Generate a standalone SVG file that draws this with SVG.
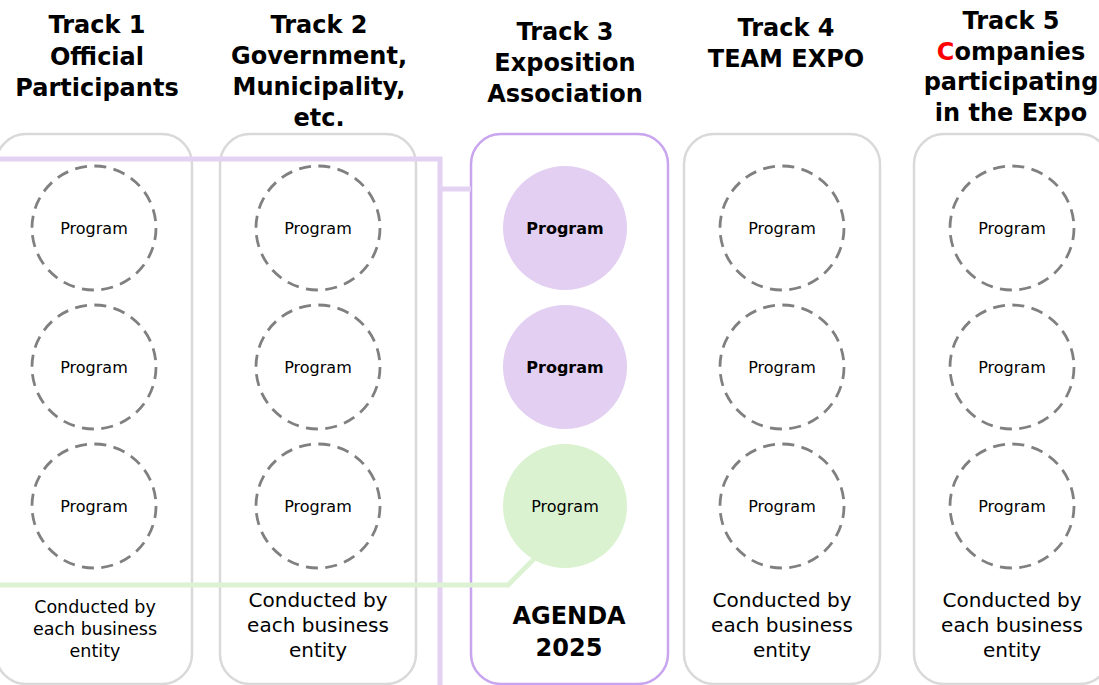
<svg xmlns="http://www.w3.org/2000/svg" width="1099" height="685" viewBox="0 0 1099 685">
<style>
.box{fill:#fff;stroke:#D9D9D9;stroke-width:2.5}
.box3{fill:#fff;stroke:#C8A5EE;stroke-width:2.5}
.dash{fill:#fff;stroke:#808080;stroke-width:2.8;stroke-dasharray:12 7.47}
.h{font-family:"DejaVu Sans",Verdana,sans-serif;font-weight:bold;font-size:24px;fill:#000;text-anchor:middle}
.p{font-family:"DejaVu Sans",Verdana,sans-serif;font-size:16px;fill:#000;text-anchor:middle}
.pb{font-family:"DejaVu Sans",Verdana,sans-serif;font-size:16px;font-weight:bold;fill:#000;text-anchor:middle}
.f{font-family:"DejaVu Sans",Verdana,sans-serif;font-size:20px;fill:#000;text-anchor:middle}
.fs{font-family:"DejaVu Sans",Verdana,sans-serif;font-size:17.5px;fill:#000;text-anchor:middle}
.lp{fill:none;stroke:#E4D2F3;stroke-width:5}
.lg{fill:none;stroke:#DCF2D3;stroke-width:5}
</style>
<rect width="1099" height="685" fill="#fff"/>
<g id="track1">
<text class="h" x="97" y="33">Track 1</text>
<text class="h" x="97" y="65">Official</text>
<text class="h" x="97" y="96">Participants</text>
<rect class="box" x="-4" y="134" width="196" height="550" rx="30"/>
</g>
<g id="track2">
<text class="h" x="319" y="33">Track 2</text>
<text class="h" x="319" y="64">Government,</text>
<text class="h" x="319" y="95">Municipality,</text>
<text class="h" x="319" y="126">etc.</text>
<rect class="box" x="220" y="134" width="196" height="550" rx="30"/>
</g>
<g id="track3">
<text class="h" x="565" y="40">Track 3</text>
<text class="h" x="565" y="71">Exposition</text>
<text class="h" x="565" y="102">Association</text>
<rect class="box3" x="471" y="134" width="197" height="550" rx="30"/>
</g>
<g id="track4">
<text class="h" x="786" y="36">Track 4</text>
<text class="h" x="786" y="67">TEAM EXPO</text>
<rect class="box" x="684" y="134" width="196" height="550" rx="30"/>
</g>
<g id="track5">
<text class="h" x="1011" y="29">Track 5</text>
<text class="h" x="1011" y="60"><tspan fill="#FF0000">C</tspan>ompanies</text>
<text class="h" x="1011" y="90">participating</text>
<text class="h" x="1011" y="121">in the Expo</text>
<rect class="box" x="914" y="134" width="196" height="550" rx="30"/>
</g>
<g id="connectors">
<polyline class="lp" points="0,159 440,159 440,690"/>
<line class="lp" x1="440" y1="189" x2="471" y2="189"/>
<polyline class="lg" points="0,585 508,585 534,559"/>
</g>
<g id="t1-programs">
<circle class="dash" cx="94" cy="228" r="62"/><text class="p" x="94" y="234">Program</text>
<circle class="dash" cx="94" cy="367" r="62"/><text class="p" x="94" y="373">Program</text>
<circle class="dash" cx="94" cy="506" r="62"/><text class="p" x="94" y="512">Program</text>
</g>
<g id="t2-programs">
<circle class="dash" cx="318" cy="228" r="62"/><text class="p" x="318" y="234">Program</text>
<circle class="dash" cx="318" cy="367" r="62"/><text class="p" x="318" y="373">Program</text>
<circle class="dash" cx="318" cy="506" r="62"/><text class="p" x="318" y="512">Program</text>
</g>
<g id="t3-programs">
<circle cx="565" cy="228" r="62" fill="#E3CFF1"/><text class="pb" x="565" y="234">Program</text>
<circle cx="565" cy="367" r="62" fill="#E3CFF1"/><text class="pb" x="565" y="373">Program</text>
<circle cx="565" cy="506" r="62" fill="#DAF2D0"/><text class="p" x="565" y="512">Program</text>
</g>
<g id="t4-programs">
<circle class="dash" cx="782" cy="228" r="62"/><text class="p" x="782" y="234">Program</text>
<circle class="dash" cx="782" cy="367" r="62"/><text class="p" x="782" y="373">Program</text>
<circle class="dash" cx="782" cy="506" r="62"/><text class="p" x="782" y="512">Program</text>
</g>
<g id="t5-programs">
<circle class="dash" cx="1012" cy="228" r="62"/><text class="p" x="1012" y="234">Program</text>
<circle class="dash" cx="1012" cy="367" r="62"/><text class="p" x="1012" y="373">Program</text>
<circle class="dash" cx="1012" cy="506" r="62"/><text class="p" x="1012" y="512">Program</text>
</g>
<g id="footers">
<text class="fs" x="95" y="613">Conducted by</text>
<text class="fs" x="95" y="635">each business</text>
<text class="fs" x="95" y="657">entity</text>
<text class="f" x="318" y="607">Conducted by</text>
<text class="f" x="318" y="632">each business</text>
<text class="f" x="318" y="657">entity</text>
<text class="h" x="569" y="624">AGENDA</text>
<text class="h" x="569" y="656">2025</text>
<text class="f" x="782" y="607">Conducted by</text>
<text class="f" x="782" y="632">each business</text>
<text class="f" x="782" y="657">entity</text>
<text class="f" x="1012" y="607">Conducted by</text>
<text class="f" x="1012" y="632">each business</text>
<text class="f" x="1012" y="657">entity</text>
</g>
</svg>
